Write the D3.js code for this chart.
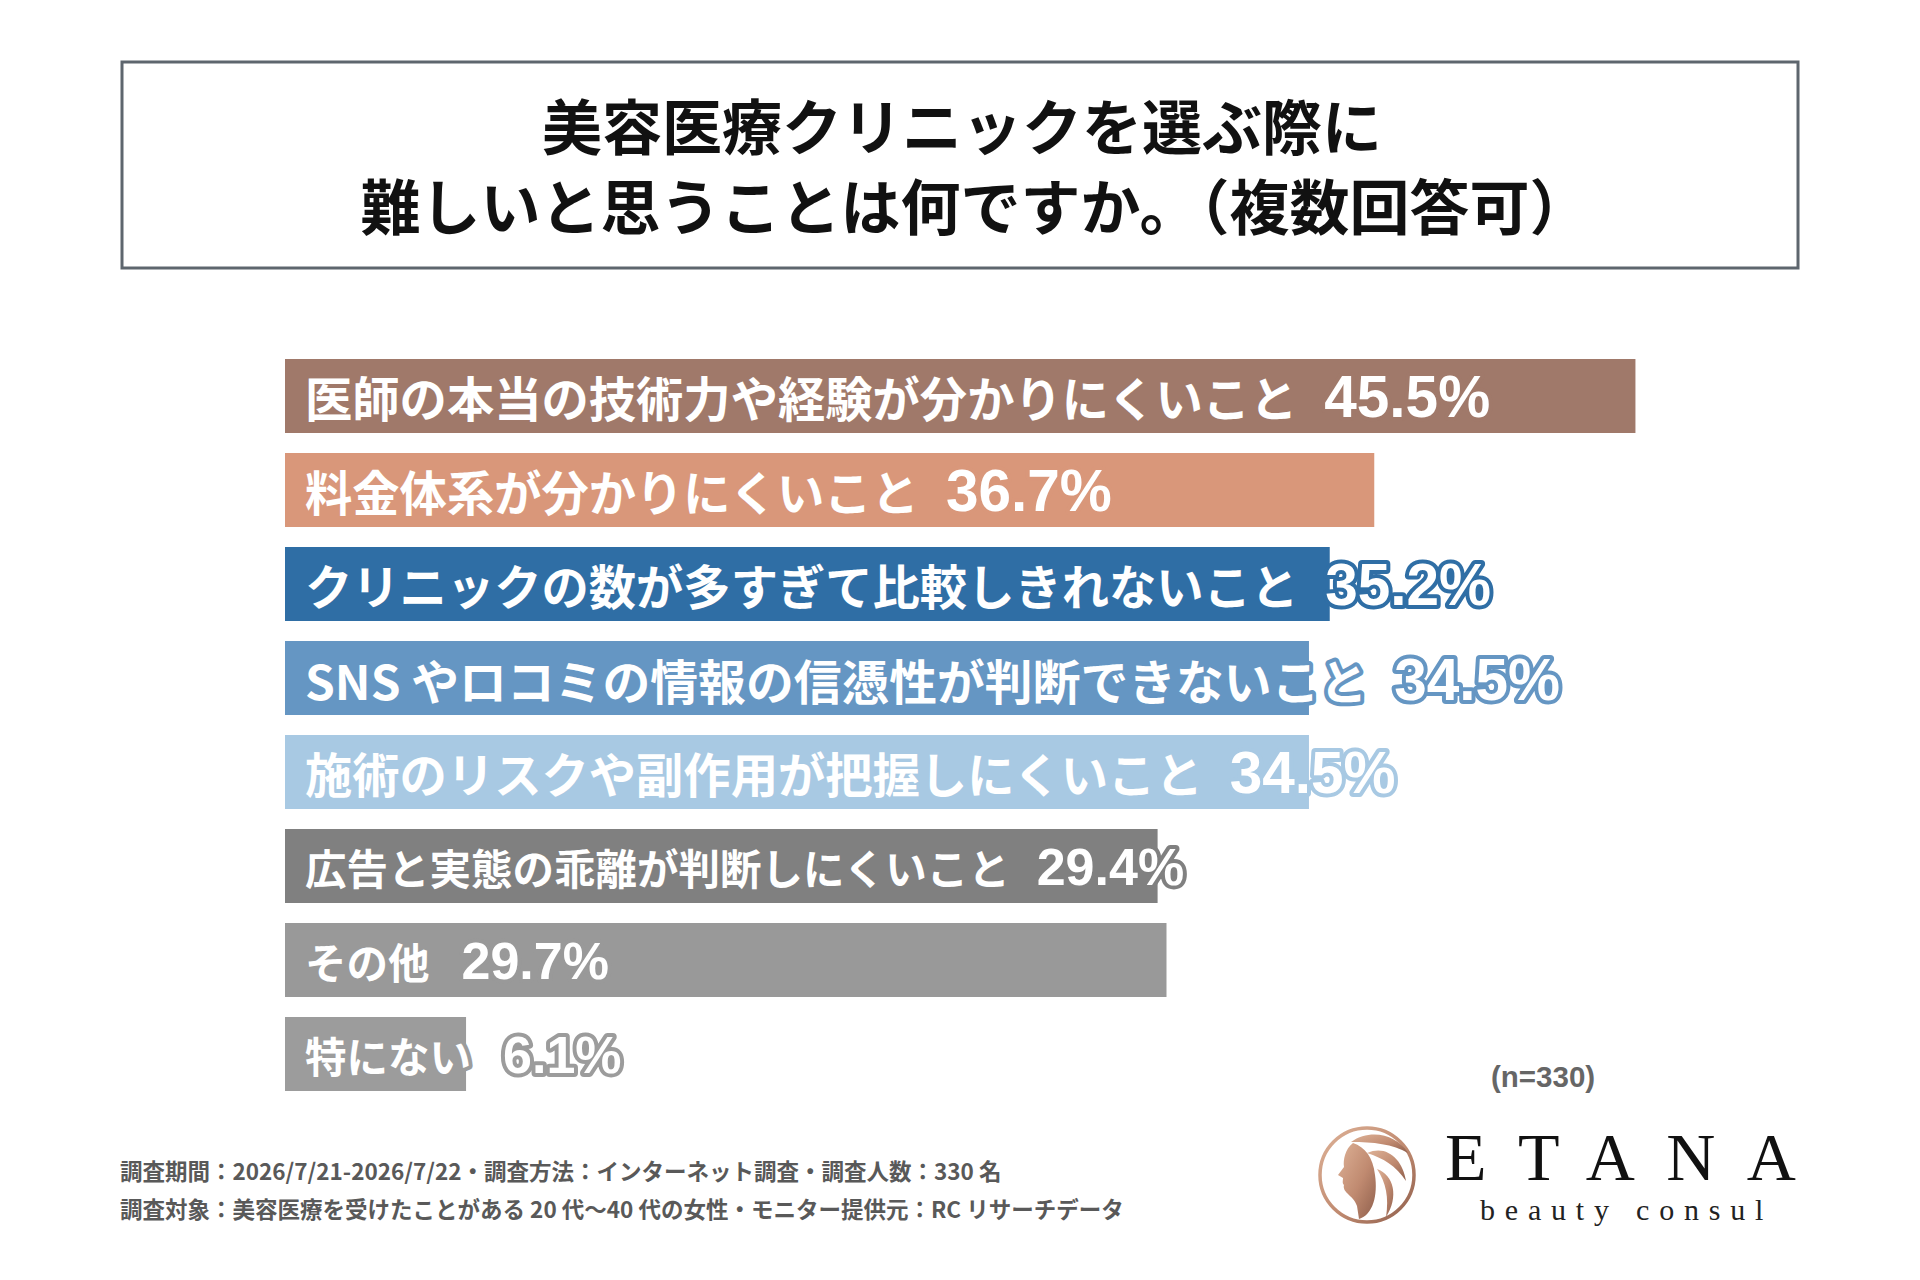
<!DOCTYPE html>
<html>
<head>
<meta charset="utf-8">
<style>
  body { margin: 0; background: #fff; }
  svg { display: block; }
</style>
</head>
<body>
<svg width="1920" height="1280"></svg>
<script src="https://d3js.org/d3.v7.min.js"></script>
<script>

// ---- data ----
var labels = [
  "医師の本当の技術力や経験が分かりにくいこと",
  "料金体系が分かりにくいこと",
  "クリニックの数が多すぎて比較しきれないこと",
  "SNS やロコミの情報の信憑性が判断できないこと",
  "施術のリスクや副作用が把握しにくいこと",
  "広告と実態の乖離が判断しにくいこと",
  "その他",
  "特にない"
];
var values = [45.5, 36.7, 35.2, 34.5, 34.5, 29.4, 29.7, 6.1];

var titleLines = [
  "美容医療クリニックを選ぶ際に",
  "難しいと思うことは何ですか。（複数回答可）"
];
var footLines = [
  "調査期間：2026/7/21-2026/7/22・調査方法：インターネット調査・調査人数：330 名",
  "調査対象：美容医療を受けたことがある 20 代〜40 代の女性・モニター提供元：RC リサーチデータ"
];
var sampleNote = "(n=330)";

// ---- styles ----
var barColors = ["#a0796a", "#d9977a", "#2f6ea5", "#6596c3", "#a8c9e3", "#808080", "#999999", "#9c9c9c"];
var labelSize = [47.3, 47.3, 47.3, 47.8, 47.3, 41.5, 41.5, 41.5];
var valueSize = [58.5, 58.5, 58.5, 58.5, 58.5, 52, 52, 52];
var valueGap  = [27, 27, 27, 27, 27, 27, 32, 32];

var jp = "'Noto Sans CJK JP', 'Noto Sans', sans-serif";
var num = "'Liberation Sans', Arial, sans-serif";

var svg = d3.select("svg");

// title box
svg.append("rect")
  .attr("x", 122).attr("y", 62)
  .attr("width", 1676).attr("height", 206)
  .attr("fill", "none")
  .attr("stroke", "#5e666e")
  .attr("stroke-width", 3);

svg.selectAll(".title")
  .data(titleLines)
  .enter().append("text")
    .attr("class", "title")
    .attr("x", function(d, i) { return i === 0 ? 962 : 975; })
    .attr("y", function(d, i) { return 150 + i * 80; })
    .attr("text-anchor", "middle")
    .style("font-family", jp)
    .style("font-weight", 700)
    .style("font-size", "60px")
    .attr("fill", "#111")
    .text(function(d) { return d; });

// scales
var x = d3.scaleLinear().domain([0, 50]).range([285, 1769]);
var y = d3.scaleBand()
  .domain(labels)
  .range([359, 1091])
  .paddingInner(20 / 94)
  .paddingOuter(0);

var rows = labels.map(function(l, i) { return { label: l, value: values[i], i: i }; });

svg.selectAll(".bar")
  .data(rows)
  .enter().append("rect")
    .attr("class", "bar")
    .attr("x", x(0))
    .attr("y", function(d) { return y(d.label); })
    .attr("width", function(d) { return x(d.value) - x(0); })
    .attr("height", y.bandwidth())
    .attr("fill", function(d) { return barColors[d.i]; });

var lab = svg.selectAll(".lab")
  .data(rows)
  .enter().append("text")
    .attr("class", "lab")
    .attr("x", x(0) + 20)
    .attr("y", function(d) { return y(d.label) + y.bandwidth() / 2 + 0.45 * labelSize[d.i]; })
    .attr("fill", "#fff")
    .attr("stroke", function(d) { return barColors[d.i]; })
    .attr("stroke-width", 8)
    .attr("stroke-linejoin", "round")
    .style("paint-order", "stroke")
    .style("font-weight", 700);

lab.append("tspan")
  .style("font-family", jp)
  .style("font-size", function(d) { return labelSize[d.i] + "px"; })
  .text(function(d) { return d.label; });

lab.append("tspan")
  .attr("dx", function(d) { return valueGap[d.i]; })
  .style("font-family", num)
  .style("font-size", function(d) { return valueSize[d.i] + "px"; })
  .text(function(d) { return d.value.toFixed(1) + "%"; });

// footnote
svg.selectAll(".foot")
  .data(footLines)
  .enter().append("text")
    .attr("class", "foot")
    .attr("x", 120)
    .attr("y", function(d, i) { return 1180 + i * 38; })
    .style("font-family", jp)
    .style("font-weight", 700)
    .style("font-size", "22.5px")
    .attr("fill", "#595959")
    .text(function(d) { return d; });

svg.append("text")
  .attr("x", 1491).attr("y", 1087)
  .style("font-family", num)
  .style("font-weight", 700)
  .style("font-size", "29.5px")
  .attr("fill", "#666")
  .text(sampleNote);

// logo
var defs = svg.append("defs");
var g = defs.append("linearGradient").attr("id", "copper")
  .attr("x1", "0").attr("y1", "0").attr("x2", "1").attr("y2", "1");
g.append("stop").attr("offset", "0%").attr("stop-color", "#deb297");
g.append("stop").attr("offset", "55%").attr("stop-color", "#c08a70");
g.append("stop").attr("offset", "100%").attr("stop-color", "#8f5f4c");

var logo = svg.append("g").attr("transform", "translate(1367,1175)");
logo.append("circle").attr("r", 47)
  .attr("fill", "none").attr("stroke", "url(#copper)").attr("stroke-width", 3.5);
logo.append("path")
  .attr("fill", "url(#copper)")
  .attr("d", "M-14,-32 C-22,-26 -24,-15 -23,-8 L-29,0 L-24,3 C-24,6 -25,8 -23,10 " +
             "C-24,13 -22,16 -20,18 C-16,22 -12,25 -10,31 L-8,44 C6,40 11,20 8,0 C6,-18 -2,-28 -14,-32 Z");
logo.append("path")
  .attr("fill", "url(#copper)")
  .attr("d", "M-16,-33 C4,-47 30,-40 41,-22 C26,-31 6,-33 -16,-33 Z");
logo.append("path")
  .attr("fill", "url(#copper)")
  .attr("d", "M0,-22 C20,-31 36,-15 39,6 C29,-9 16,-17 0,-22 Z");
logo.append("path")
  .attr("fill", "url(#copper)")
  .attr("d", "M10,-6 C27,0 32,22 19,42 C22,22 19,8 10,-6 Z");

svg.append("text")
  .attr("x", 1445).attr("y", 1180)
  .style("font-family", "'Liberation Serif', 'DejaVu Serif', serif")
  .style("font-size", "68px")
  .style("letter-spacing", "31.5px")
  .attr("fill", "#111")
  .text("ETANA");

svg.append("text")
  .attr("x", 1480).attr("y", 1220)
  .style("font-family", "'Liberation Serif', 'DejaVu Serif', serif")
  .style("font-size", "30px")
  .style("letter-spacing", "9.8px")
  .attr("fill", "#222")
  .text("beauty consul");

</script>
</body>
</html>
